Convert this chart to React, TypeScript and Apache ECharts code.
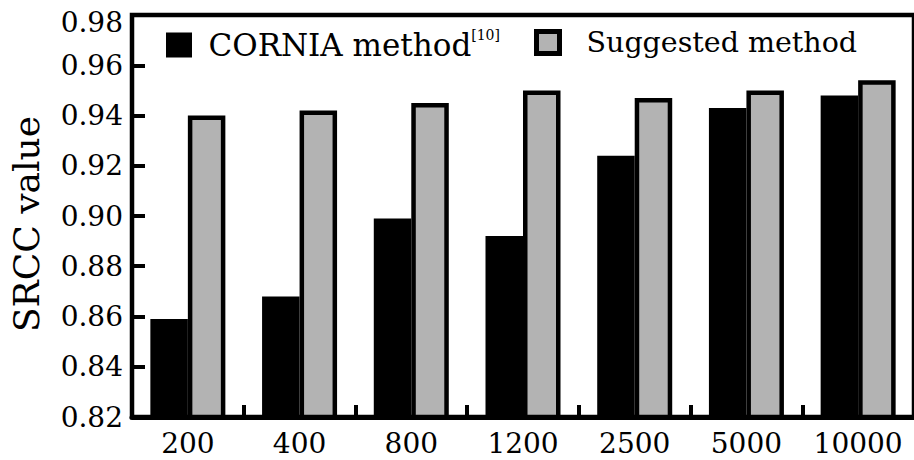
import React, { useEffect, useRef } from "react";
import * as echarts from "echarts";

const categories = ["200", "400", "800", "1200", "2500", "5000", "10000"];
const corniaValues = [0.859, 0.868, 0.899, 0.892, 0.924, 0.943, 0.948];
const suggestedValues = [0.94, 0.942, 0.945, 0.95, 0.947, 0.95, 0.954];
const seriesNames = ["CORNIA method", "Suggested method"];
const citation = "[10]";
const yMin = 0.82;
const yMax = 0.98;

const FONT = "DejaVu Serif";

const legendBase = {
  top: 28,
  padding: 0,
  itemWidth: 23,
  itemHeight: 22,
  icon: "rect",
  selectedMode: false,
};

export default function App() {
  const ref = useRef<HTMLDivElement>(null);
  useEffect(() => {
    if (!ref.current) return;
    const chart = echarts.init(ref.current, null, { renderer: "svg" });
    chart.setOption({
      animation: false,
      backgroundColor: "#fff",
      textStyle: { fontFamily: FONT },
      grid: {
        left: 132,
        top: 15,
        width: 788,
        bottom: 43,
        show: true,
        borderColor: "#000",
        borderWidth: 4.5,
        backgroundColor: "transparent",
      },
      legend: [
        {
          ...legendBase,
          left: 166,
          data: [
            {
              name: seriesNames[0],
              itemStyle: { color: "#000", borderColor: "#000", borderWidth: 3 },
            },
          ],
          formatter: (name: string) => "{a|" + name + "}{s|" + citation + "}",
          textStyle: {
            fontFamily: FONT,
            fontSize: 31,
            color: "#000",
            rich: {
              a: { fontFamily: FONT, fontSize: 31, color: "#000", padding: [0, 0, 0, 13], lineHeight: 34 },
              s: { fontFamily: FONT, fontSize: 14, color: "#000", verticalAlign: "top", lineHeight: 34 },
            },
          },
        },
        {
          ...legendBase,
          left: 534,
          data: [
            {
              name: seriesNames[1],
              itemStyle: { color: "#b3b3b3", borderColor: "#000", borderWidth: 5 },
            },
          ],
          formatter: (name: string) => "{b|" + name + "}",
          textStyle: {
            fontFamily: FONT,
            fontSize: 28.5,
            color: "#000",
            rich: {
              b: { fontFamily: FONT, fontSize: 28.5, color: "#000", padding: [0, 0, 0, 22], lineHeight: 34 },
            },
          },
        },
      ],
      xAxis: {
        type: "category",
        data: categories,
        axisLine: { show: true, lineStyle: { color: "#000", width: 5 } },
        axisTick: {
          show: true,
          inside: true,
          length: 12,
          alignWithLabel: false,
          lineStyle: { color: "#000", width: 4 },
        },
        axisLabel: {
          fontFamily: FONT,
          fontSize: 28,
          lineHeight: 26,
          color: "#000",
          margin: 13,
          interval: 0,
        },
        splitLine: { show: false },
      },
      yAxis: {
        type: "value",
        min: yMin,
        max: yMax,
        interval: 0.02,
        name: "SRCC value",
        nameLocation: "middle",
        nameGap: 88,
        nameTextStyle: { fontFamily: FONT, fontSize: 36, color: "#000", padding: [0, 16, 0, 0] },
        axisLine: { show: true, lineStyle: { color: "#000", width: 4 } },
        axisTick: {
          show: true,
          inside: true,
          length: 13,
          lineStyle: { color: "#000", width: 4 },
        },
        axisLabel: {
          fontFamily: FONT,
          fontSize: 28,
          color: "#000",
          margin: 9,
          showMaxLabel: true,
          showMinLabel: true,
          formatter: (v: number) =>
            v >= yMax - 1e-9 ? "{top|" + v.toFixed(2) + "}" : v.toFixed(2),
          rich: {
            top: { fontFamily: FONT, fontSize: 28, color: "#000", padding: [14, 0, 0, 0] },
          },
        },
        splitLine: { show: false },
      },
      series: [
        {
          name: seriesNames[0],
          type: "bar",
          data: corniaValues,
          barWidth: 37.5,
          barGap: "0%",
          z: 3,
          itemStyle: { color: "#000" },
        },
        {
          name: seriesNames[1],
          type: "bar",
          data: suggestedValues,
          barWidth: 37.5,
          barGap: "0%",
          z: 2,
          itemStyle: { color: "#b3b3b3", borderColor: "#000", borderWidth: 4.5 },
        },
      ],
    });
    return () => chart.dispose();
  }, []);
  return (
    <div
      ref={ref}
      style={{ position: "fixed", left: 0, top: 0, width: 914, height: 460, background: "#fff" }}
    />
  );
}
